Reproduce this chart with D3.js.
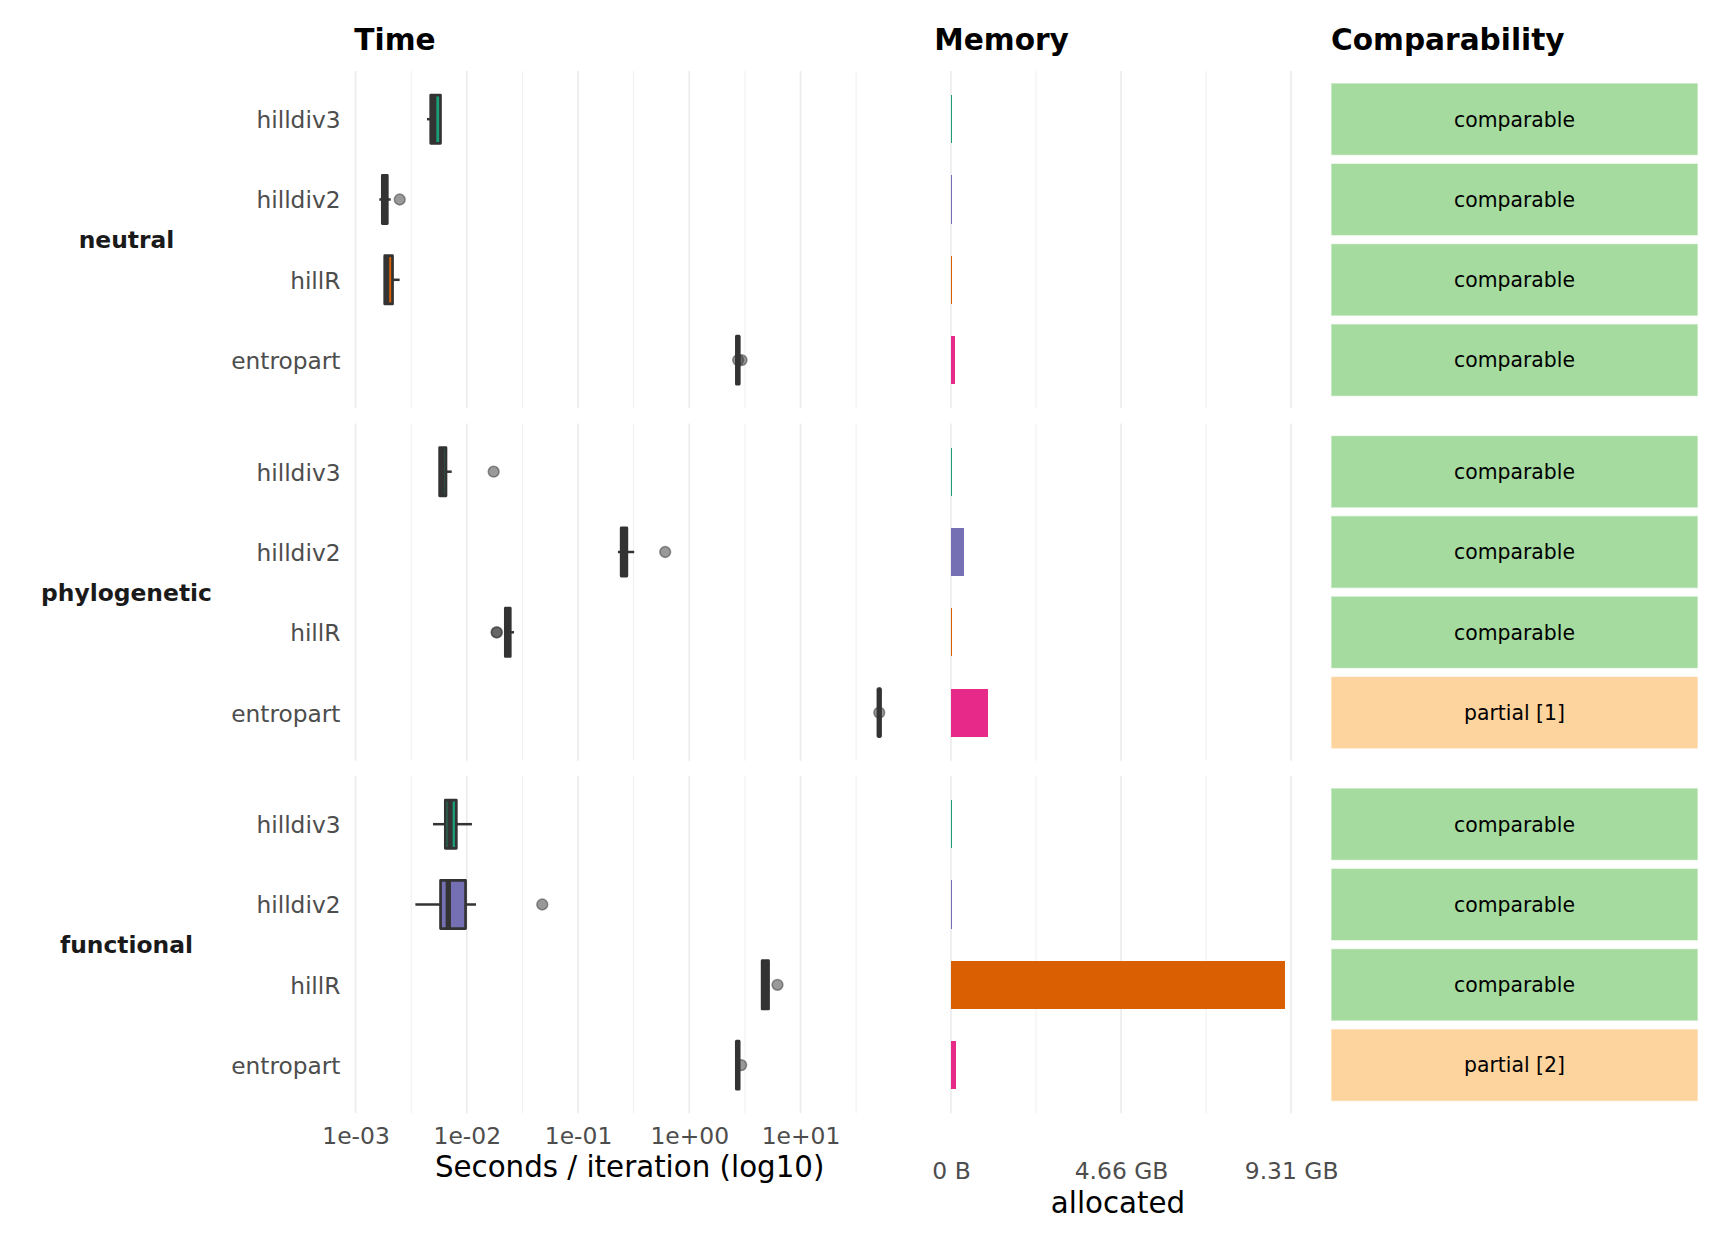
<!DOCTYPE html>
<html><head><meta charset="utf-8">
<script src="https://cdn.jsdelivr.net/npm/d3@7"></script>
<style>body{margin:0;background:#fff}svg{display:block}</style>
</head><body><svg id="c" width="1728" height="1248"></svg>
<script>
// ---------------- data ----------------
const facets = ["neutral", "phylogenetic", "functional"];
const packages = ["hilldiv3", "hilldiv2", "hillR", "entropart"];
const pkgColors = ["#1B9E77", "#7570B3", "#D95F02", "#E7298A"];

// Time (seconds / iteration) boxplot statistics, [facet][package]
const timeWhiskerLow = [
  [0.00439, 0.001636, 0.00183, 2.66],
  [0.0057, 0.2284, 0.0222, 50.3],
  [0.00497, 0.00345, 4.52, 2.66]
];
const timeQ1 = [
  [0.00474, 0.00174, 0.00183, 2.66],
  [0.0057, 0.2443, 0.0222, 50.3],
  [0.00641, 0.00581, 4.52, 2.66]
];
const timeMedian = [
  [0.00504, 0.00183, 0.0019, 2.73],
  [0.00598, 0.26, 0.0234, 51.0],
  [0.00706, 0.00682, 4.83, 2.72]
];
const timeQ3 = [
  [0.0058, 0.00193, 0.00215, 2.80],
  [0.0065, 0.2748, 0.0246, 51.8],
  [0.00805, 0.00975, 5.16, 2.80]
];
const timeWhiskerHigh = [
  [0.0058, 0.00207, 0.00249, 2.80],
  [0.00732, 0.3198, 0.0266, 51.8],
  [0.01113, 0.0121, 5.16, 2.80]
];
const timeOutliers = [
  [[], [0.002495], [], [2.75, 2.95]],
  [[0.01744], [0.6076], [0.01856, 0.0186], [51.05]],
  [[], [0.0477], [6.21], [2.93]]
];

// Memory allocated (bytes), [facet][package]
const memoryBytes = [
  [3.0e7, 3.0e7, 3.0e7, 1.2e8],
  [3.0e7, 3.9e8, 3.0e7, 1.1e9],
  [3.0e7, 3.0e7, 9.82e9, 1.5e8]
];

// Comparability, [facet][package]
const comparability = [
  ["comparable", "comparable", "comparable", "comparable"],
  ["comparable", "comparable", "comparable", "partial [1]"],
  ["comparable", "comparable", "comparable", "partial [2]"]
];
const statusNames = ["comparable", "partial [1]", "partial [2]"];
const statusColors = ["#A6DBA0", "#FDD49E", "#FDD49E"];

const timeTicks = [1e-3, 1e-2, 1e-1, 1e0, 1e1];
const timeMinorTicks = [10 ** -2.5, 10 ** -1.5, 10 ** -0.5, 10 ** 0.5, 10 ** 1.5];
const memTicks = [0, 5e9, 1e10];
const memMinorTicks = [2.5e9, 7.5e9];

// ---------------- layout ----------------
const FONT = "DejaVu Sans, Liberation Sans, sans-serif";
const svg = d3.select("#c");
const panelTop0 = 71, panelH = 337.3, panelGap = 15.2;
const timeRange = [354.3, 905];
const memRange = [934.3, 1301.7];
const tileRange = [1331, 1698];

// scales
const allTimeVals = timeWhiskerLow.flat().concat(timeWhiskerHigh.flat(), timeOutliers.flat(2));
const lLo = Math.log10(d3.min(allTimeVals)), lHi = Math.log10(d3.max(allTimeVals));
const lPad = (lHi - lLo) * 0.05;
const xTime = d3.scaleLog().domain([10 ** (lLo - lPad), 10 ** (lHi + lPad)]).range(timeRange);

const mMax = d3.max(memoryBytes.flat());
const xMem = d3.scaleLinear().domain([-0.05 * mMax, 1.05 * mMax]).range(memRange);

const color = d3.scaleOrdinal().domain(packages).range(pkgColors);
const tileColor = d3.scaleOrdinal().domain(statusNames).range(statusColors);

// titles
const titles = [["Time", timeRange[0]], ["Memory", memRange[0]], ["Comparability", tileRange[0]]];
svg.selectAll("text.ptitle").data(titles).join("text")
  .attr("class", "ptitle")
  .attr("x", d => d[1]).attr("y", 50)
  .attr("font-family", FONT).attr("font-weight", "bold").attr("font-size", 29.6)
  .attr("fill", "#000").text(d => d[0]);

facets.forEach((facet, fi) => {
  const top = panelTop0 + fi * (panelH + panelGap);
  const bottom = top + panelH;
  const y = d3.scalePoint().domain(packages).range([top, bottom]).padding(0.6);
  const step = y.step();
  const g = svg.append("g");

  // grid: time
  g.selectAll("line.tmin").data(timeMinorTicks).join("line")
    .attr("x1", d => xTime(d)).attr("x2", d => xTime(d)).attr("y1", top).attr("y2", bottom)
    .attr("stroke", "#EBEBEB").attr("stroke-width", 0.8);
  g.selectAll("line.tmaj").data(timeTicks).join("line")
    .attr("x1", d => xTime(d)).attr("x2", d => xTime(d)).attr("y1", top).attr("y2", bottom)
    .attr("stroke", "#EBEBEB").attr("stroke-width", 1.6);
  // grid: memory
  g.selectAll("line.mmin").data(memMinorTicks).join("line")
    .attr("x1", d => xMem(d)).attr("x2", d => xMem(d)).attr("y1", top).attr("y2", bottom)
    .attr("stroke", "#EBEBEB").attr("stroke-width", 0.8);
  g.selectAll("line.mmaj").data(memTicks).join("line")
    .attr("x1", d => xMem(d)).attr("x2", d => xMem(d)).attr("y1", top).attr("y2", bottom)
    .attr("stroke", "#EBEBEB").attr("stroke-width", 1.6);

  // y axis labels
  const ya = g.append("g").attr("transform", "translate(340.5,0)")
    .call(d3.axisLeft(y).tickSize(0).tickPadding(0));
  ya.select(".domain").remove();
  ya.attr("font-family", FONT).attr("font-size", 23.3);
  ya.selectAll("text").attr("fill", "#4D4D4D").attr("dy", "0.36em");

  // strip label
  g.append("text").attr("x", 126.5).attr("y", (top + bottom) / 2).attr("dy", "0.36em")
    .attr("text-anchor", "middle").attr("font-family", FONT).attr("font-weight", "bold")
    .attr("font-size", 23.4).attr("fill", "#1A1A1A").text(facet);

  packages.forEach((pkg, pi) => {
    const cy = y(pkg);
    const bh = 0.6 * step;
    // outliers
    g.selectAll(null).data(timeOutliers[fi][pi]).join("circle")
      .attr("cx", d => xTime(d)).attr("cy", cy).attr("r", 5.4)
      .attr("fill", "#333333").attr("fill-opacity", 0.5)
      .attr("stroke", "#333333").attr("stroke-opacity", 0.5).attr("stroke-width", 1.5);
    // whiskers
    g.append("line").attr("x1", xTime(timeWhiskerLow[fi][pi])).attr("x2", xTime(timeQ1[fi][pi]))
      .attr("y1", cy).attr("y2", cy).attr("stroke", "#333333").attr("stroke-width", 2.5);
    g.append("line").attr("x1", xTime(timeQ3[fi][pi])).attr("x2", xTime(timeWhiskerHigh[fi][pi]))
      .attr("y1", cy).attr("y2", cy).attr("stroke", "#333333").attr("stroke-width", 2.5);
    // box
    const x1 = xTime(timeQ1[fi][pi]), x3 = xTime(timeQ3[fi][pi]);
    g.append("rect").attr("x", x1).attr("width", Math.max(0.1, x3 - x1))
      .attr("y", cy - bh / 2).attr("height", bh)
      .attr("fill", color(pkg)).attr("stroke", "#333333").attr("stroke-width", 2.7)
      .attr("stroke-linejoin", "round");
    // median
    const xm = xTime(timeMedian[fi][pi]);
    g.append("line").attr("x1", xm).attr("x2", xm).attr("y1", cy - bh / 2).attr("y2", cy + bh / 2)
      .attr("stroke", "#333333").attr("stroke-width", 5.3);

    // memory bar
    g.append("rect").attr("x", xMem(0)).attr("width", xMem(memoryBytes[fi][pi]) - xMem(0))
      .attr("y", cy - bh / 2).attr("height", bh).attr("fill", color(pkg))
      .attr("shape-rendering", "crispEdges");

    // comparability tile
    const th = 0.9 * step;
    g.append("rect").attr("x", tileRange[0]).attr("width", tileRange[1] - tileRange[0])
      .attr("y", cy - th / 2).attr("height", th)
      .attr("fill", tileColor(comparability[fi][pi]))
      .attr("stroke", "#ffffff").attr("stroke-opacity", 0.6).attr("stroke-width", 1.2);
    g.append("text").attr("x", (tileRange[0] + tileRange[1]) / 2).attr("y", cy).attr("dy", "0.36em")
      .attr("text-anchor", "middle").attr("font-family", FONT).attr("font-size", 20.4)
      .attr("fill", "#000").text(comparability[fi][pi]);
  });
});

// bottom axes
const fmtExp = d => {
  const e = Math.round(Math.log10(d));
  return "1e" + (e < 0 ? "-" : "+") + String(Math.abs(e)).padStart(2, "0");
};
const ta = svg.append("g").attr("transform", "translate(0,1143.5)")
  .call(d3.axisBottom(xTime).tickValues(timeTicks).tickFormat(fmtExp).tickSize(0));
ta.select(".domain").remove();
ta.attr("font-family", FONT).attr("font-size", 23.4);
ta.selectAll("text").attr("fill", "#4D4D4D").attr("y", 0).attr("dy", null);

const fmtBytes = d => d === 0 ? "0 B" : (d / 2 ** 30).toFixed(2) + " GB";
const ma = svg.append("g").attr("transform", "translate(0,1178.7)")
  .call(d3.axisBottom(xMem).tickValues(memTicks).tickFormat(fmtBytes).tickSize(0));
ma.select(".domain").remove();
ma.attr("font-family", FONT).attr("font-size", 23.4);
ma.selectAll("text").attr("fill", "#4D4D4D").attr("y", 0).attr("dy", null);

svg.append("text").attr("x", (timeRange[0] + timeRange[1]) / 2).attr("y", 1177)
  .attr("text-anchor", "middle").attr("font-family", FONT).attr("font-size", 29.3)
  .attr("fill", "#000").text("Seconds / iteration (log10)");
svg.append("text").attr("x", (memRange[0] + memRange[1]) / 2).attr("y", 1212.7)
  .attr("text-anchor", "middle").attr("font-family", FONT).attr("font-size", 29.3)
  .attr("fill", "#000").text("allocated");
</script>
</body></html>
